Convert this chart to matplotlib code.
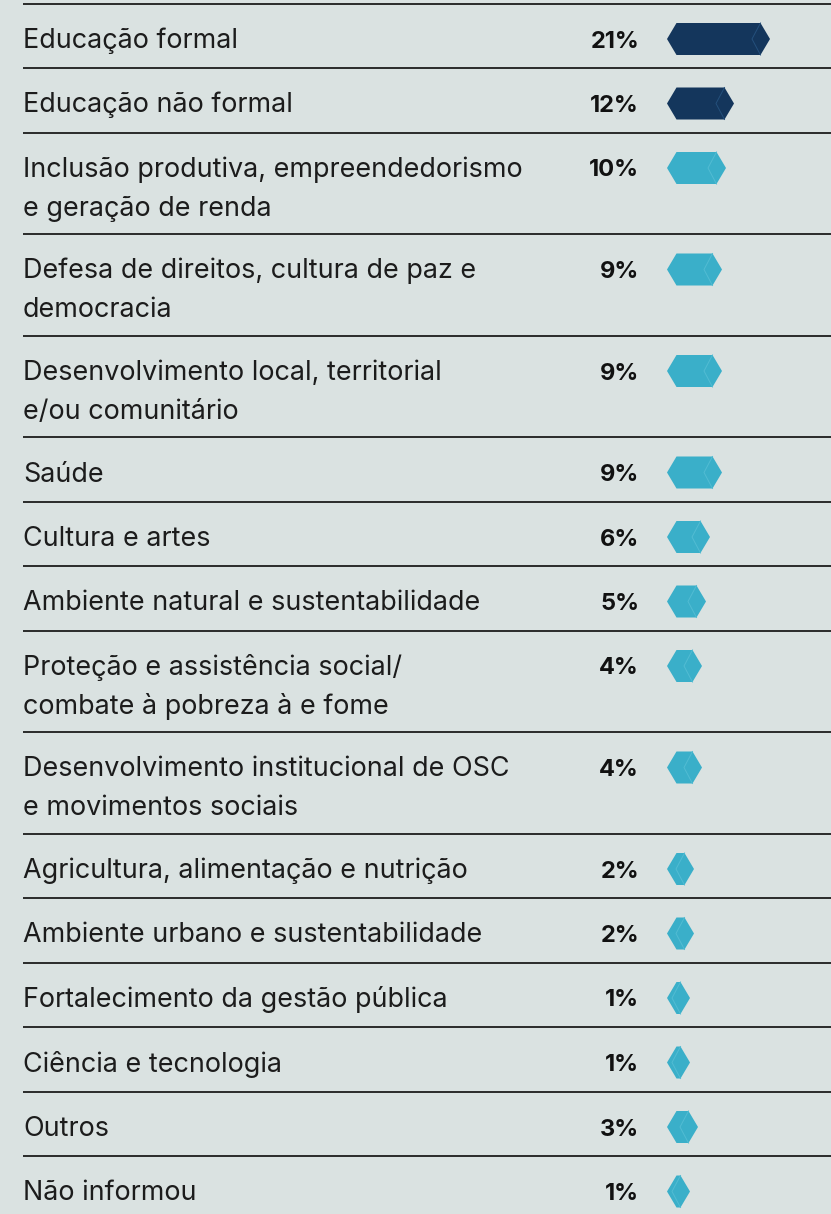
import numpy as np
import matplotlib.pyplot as plt
from matplotlib.patches import Polygon

labels = [
    "Educação formal",
    "Educação não formal",
    "Inclusão produtiva, empreendedorismo\ne geração de renda",
    "Defesa de direitos, cultura de paz e\ndemocracia",
    "Desenvolvimento local, territorial\ne/ou comunitário",
    "Saúde",
    "Cultura e artes",
    "Ambiente natural e sustentabilidade",
    "Proteção e assistência social/\ncombate à pobreza à e fome",
    "Desenvolvimento institucional de OSC\ne movimentos sociais",
    "Agricultura, alimentação e nutrição",
    "Ambiente urbano e sustentabilidade",
    "Fortalecimento da gestão pública",
    "Ciência e tecnologia",
    "Outros",
    "Não informou",
]
values = [21, 12, 10, 9, 9, 9, 6, 5, 4, 4, 2, 2, 1, 1, 3, 1]
highlight = [True, True] + [False] * 14

BG = "#dae2e1"
NAVY = "#14365c"
TEAL = "#3aafc9"

W, H = 831, 1214
fig = plt.figure(figsize=(W / 100, H / 100), dpi=100, facecolor=BG)
ax = fig.add_axes([0, 0, 1, 1])
ax.set_xlim(0, W)
ax.set_ylim(H, 0)
ax.axis("off")

single_h, double_h = 64.5, 101.5
line_gap = 38.5
x0 = 667          # left tip of each bar
px_per_pct = 4.0
tip = 9.5
bar_h = 32

top = 3.5
for lab, v, hl in zip(labels, values, highlight):
    lines = lab.split("\n")
    h = single_h if len(lines) == 1 else double_h
    ax.plot([23, W], [top, top], color="#2a2a2a", lw=1.4, solid_capstyle="butt")

    base = top + 44.5
    for i, ln in enumerate(lines):
        ax.text(23, base + i * line_gap, ln, fontsize=19.4, family="Inter",
                color="#1c1c1c", va="baseline", ha="left")
    ax.text(639, base - 0.5, f"{v}%", fontsize=17, family="Inter",
            fontweight="bold", color="#111111", va="baseline", ha="right")

    # hexagonal bar with a faint face on the right end
    cy = top + 35.5
    x1 = x0 + 2 * tip + px_per_pct * v
    col = NAVY if hl else TEAL
    pts = [(x0, cy), (x0 + tip, cy - bar_h / 2), (x1 - tip, cy - bar_h / 2),
           (x1, cy), (x1 - tip, cy + bar_h / 2), (x0 + tip, cy + bar_h / 2)]
    ax.add_patch(Polygon(pts, closed=True, facecolor=col, edgecolor="none"))
    edge = "#24507c" if hl else "#52bcd3"
    ax.plot([x1 - tip, x1 - 2 * tip + 1, x1 - tip],
            [cy - bar_h / 2, cy, cy + bar_h / 2], color=edge, lw=0.7)

    top += h

fig.savefig("out.png", dpi=100, facecolor=BG)
